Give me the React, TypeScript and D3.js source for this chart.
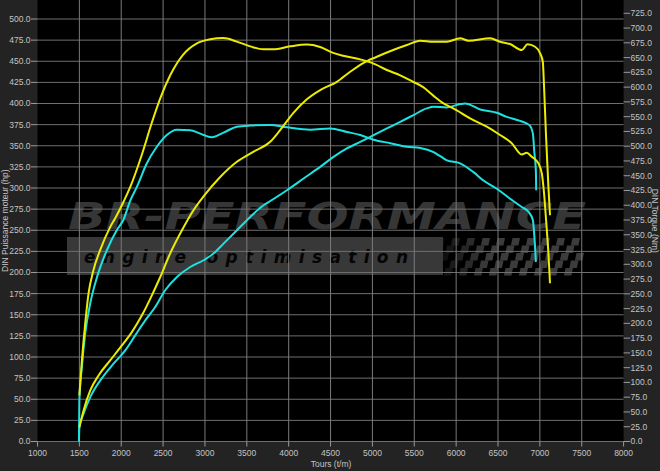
import React from "react";
import * as d3 from "d3";

const W = 660, H = 471;
const M = { left: 37.5, right: 623.6, top: 0, bottom: 441.5 };

const xTicks = d3.range(1000, 8001, 500);
const leftTicks = d3.range(0, 501, 25);
const rightTicks = d3.range(0, 726, 25);

// [rpm, hp] / [rpm, Nm]
const tunedPower: [number, number][] = [
  [1500, 16.6], [1550, 36.7], [1630, 60.4], [1729, 78.2], [1868, 96], [2008, 113.7], [2127, 129.5],
  [2247, 149.3], [2366, 173], [2466, 194.7], [2585, 222.7], [2725, 250], [2863, 273.7], [2983, 290],
  [3182, 313], [3381, 331], [3576, 342.8], [3779, 354.7], [3898, 368.5], [4054, 388.6], [4217, 405],
  [4376, 415.9], [4576, 425.7], [4735, 437.6], [4890, 447.9], [5053, 455.3], [5248, 463.3], [5412, 469.2],
  [5571, 474.3], [5724, 473.1], [5889, 473.1], [6048, 477.1], [6148, 474.3], [6406, 477.1], [6525, 473.1],
  [6644, 470.4], [6784, 463.3], [6852, 470], [6943, 467.2], [7003, 459.4], [7035, 449.4], [7050, 419.8],
  [7074, 360.5], [7102, 301.3], [7121, 267.8],
];
const tunedTorque: [number, number][] = [
  [1500, 78], [1530, 137], [1570, 200], [1610, 251], [1668, 290], [1748, 324], [1868, 363], [1928, 378],
  [2028, 406], [2108, 431], [2247, 486], [2366, 540], [2466, 581], [2585, 620], [2740, 655], [2904, 674],
  [3063, 681], [3218, 683], [3382, 677], [3541, 669], [3696, 664], [3815, 664], [4018, 669], [4217, 672],
  [4376, 668], [4531, 658], [4650, 653], [4854, 647], [4994, 641], [5173, 629], [5332, 620], [5487, 609],
  [5606, 600], [5724, 586], [5844, 573], [5967, 564], [6167, 547], [6366, 533], [6524, 519], [6664, 505],
  [6783, 486], [6843, 489], [6903, 482], [6982, 471], [7023, 454], [7050, 420], [7074, 375], [7102, 319],
  [7121, 268],
];
const stockPower: [number, number][] = [
  [1495, 0], [1500, 17], [1550, 32.8], [1630, 52.5], [1750, 72.3], [1908, 92.1], [2048, 107.8],
  [2167, 125.6], [2287, 143.4], [2406, 159.1], [2525, 179], [2665, 194.7], [2824, 206.5], [2983, 214.5],
  [3102, 222.4], [3222, 234.2], [3382, 250], [3541, 265.8], [3700, 279.6], [3795, 285.5], [3979, 297.4],
  [4178, 311.3], [4376, 325], [4535, 336.8], [4695, 346.8], [4855, 354.6], [5014, 362.6], [5173, 370.5],
  [5332, 378.3], [5490, 386.3], [5649, 394.2], [5729, 396.1], [5890, 395.4], [6048, 399.3], [6108, 400.1],
  [6287, 393], [6486, 389], [6605, 384.2], [6764, 379.5], [6875, 374.4], [6916, 364.6], [6935, 340.9],
  [6952, 321.1], [6956, 297.4],
];
const stockTorque: [number, number][] = [
  [1495, 0], [1500, 69], [1530, 126], [1570, 183], [1630, 234], [1710, 278], [1829, 324], [1948, 358],
  [2025, 375], [2108, 408], [2187, 431], [2306, 471], [2425, 499], [2544, 519], [2665, 528], [2824, 527],
  [2983, 519], [3083, 515], [3222, 523], [3382, 533], [3541, 535], [3779, 536], [3979, 532], [4257, 528],
  [4496, 530], [4695, 524], [4855, 519], [5014, 511], [5213, 505], [5411, 499], [5571, 497], [5730, 490],
  [5810, 483], [5890, 476], [6048, 471], [6207, 456], [6326, 442], [6486, 428], [6645, 411], [6784, 397],
  [6863, 389], [6916, 375], [6935, 346], [6952, 304],
];

const YELLOW = "#ecec00";
const CYAN = "#1de2e2";
const FONT = "'Liberation Sans', Arial, sans-serif";

export default function App() {
  const x = d3.scaleLinear().domain([1000, 8000]).range([M.left, M.right]);
  const yL = d3.scaleLinear().domain([0, 522.5]).range([M.bottom, M.top]);
  const yR = d3.scaleLinear().domain([0, 747.5]).range([M.bottom, M.top]);

  const lineL = d3.line<[number, number]>().x(d => x(d[0])).y(d => yL(d[1])).curve(d3.curveMonotoneX);
  const lineR = d3.line<[number, number]>().x(d => x(d[0])).y(d => yR(d[1])).curve(d3.curveMonotoneX);

  // checkered flag decoration
  const checks: React.ReactElement[] = [];
  const cs = 7.5;
  for (let r = 0; r < 5; r++) {
    for (let c = 0; c < 22; c++) {
      if ((r + c) % 2 === 0) continue;
      const cx = 430 + c * cs + r * 2;
      if (cx > 580) continue;
      const op = Math.min(1, Math.max(0.15, (cx - 425) / 60));
      checks.push(
        <rect key={`${r}-${c}`} x={cx} y={238 + r * cs} width={cs} height={cs}
          fill="#3c3c3c" opacity={op} transform={`skewX(-12)`} style={{ transformOrigin: `${cx}px ${238 + r * cs}px` }} />
      );
    }
  }

  return (
    <div style={{ position: "absolute", left: 0, top: 0 }}>
      <svg width={W} height={H} style={{ display: "block" }}>
        <rect x={0} y={0} width={W} height={H} fill="#232323" />
        <rect x={M.left} y={M.top} width={M.right - M.left} height={M.bottom - M.top} fill="#000" />

        {/* watermark */}
        <g>
          <rect x={67} y={237} width={376} height={38} fill="#383838" />
          {checks}
          <text x={68} y={229} fontFamily="'DejaVu Sans', sans-serif" fontWeight="bold" fontStyle="italic"
            fontSize={37} fill="#363636" textLength={518} lengthAdjust="spacingAndGlyphs">BR-PERFORMANCE</text>
          <text x={84} y={263} fontFamily="'DejaVu Sans', sans-serif" fontWeight="bold" fontStyle="italic"
            fontSize={17} fill="#050505" textLength={324} lengthAdjust="spacing">engine optimisation</text>
        </g>

        {/* grid */}
        {leftTicks.map(t => (
          <line key={`h${t}`} x1={M.left} x2={M.right} y1={yL(t)} y2={yL(t)} stroke="#6e6e6e" strokeWidth={1} />
        ))}
        {xTicks.slice(1, -1).map(t => (
          <line key={`v${t}`} x1={x(t)} x2={x(t)} y1={M.top} y2={M.bottom} stroke="#7a7a7a" strokeWidth={1} />
        ))}

        {/* curves */}
        <path d={lineR(stockTorque) || ""} fill="none" stroke={CYAN} strokeWidth={2} />
        <path d={lineL(stockPower) || ""} fill="none" stroke={CYAN} strokeWidth={2} />
        <path d={lineR(tunedTorque) || ""} fill="none" stroke={YELLOW} strokeWidth={2} />
        <path d={lineL(tunedPower) || ""} fill="none" stroke={YELLOW} strokeWidth={2} />

        {/* axes */}
        <g fontFamily={FONT} fontSize={8.5} fill="#c4c4c4">
          {leftTicks.map(t => (
            <g key={`l${t}`}>
              <line x1={M.left - 6.5} x2={M.left} y1={yL(t)} y2={yL(t)} stroke="#9a9a9a" />
              <text x={M.left - 7} y={yL(t)} dy="0.35em" textAnchor="end">{t.toFixed(1)}</text>
            </g>
          ))}
          {rightTicks.map(t => (
            <g key={`r${t}`}>
              <line x1={M.right} x2={M.right + 6.5} y1={yR(t)} y2={yR(t)} stroke="#9a9a9a" />
              <text x={M.right + 7} y={yR(t)} dy="0.35em" textAnchor="start">{t.toFixed(1)}</text>
            </g>
          ))}
          {xTicks.map(t => (
            <g key={`x${t}`}>
              <line x1={x(t)} x2={x(t)} y1={M.bottom} y2={M.bottom + 5} stroke="#9a9a9a" />
              <text x={x(t)} y={M.bottom + 14} textAnchor="middle">{t}</text>
            </g>
          ))}
          <text x={331} y={467} textAnchor="middle">Tours (t/m)</text>
          <text transform={`translate(8,${(M.top + M.bottom) / 2}) rotate(-90)`} textAnchor="middle">DIN Puissance moteur (hp)</text>
          <text transform={`translate(652,${(M.top + M.bottom) / 2}) rotate(90)`} textAnchor="middle">DIN Torque (Nm)</text>
        </g>
      </svg>
    </div>
  );
}
